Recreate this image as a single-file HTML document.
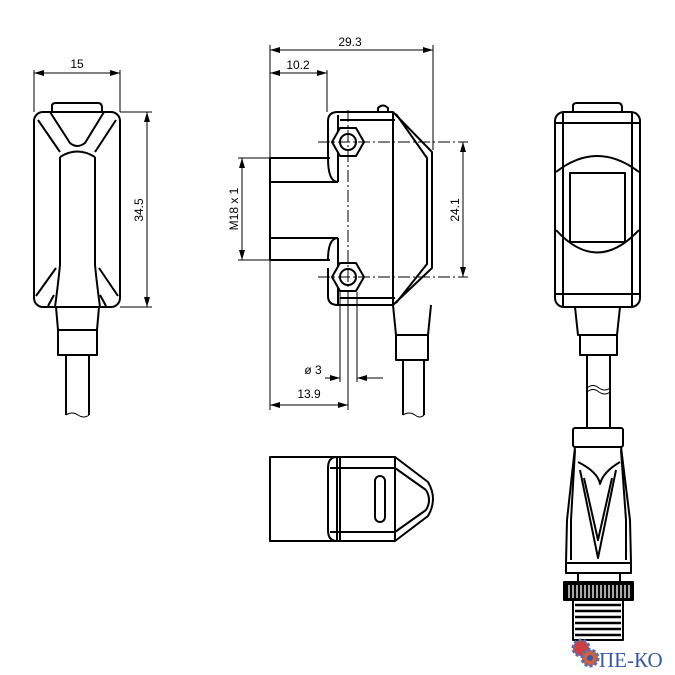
<!DOCTYPE html>
<html><head><meta charset="utf-8"><style>
html,body{margin:0;padding:0;background:#fff;}
svg{display:block;}
text{font-family:"Liberation Sans",sans-serif;font-size:12px;fill:#000;}
</style></head><body>
<svg width="675" height="675" viewBox="0 0 675 675" xmlns="http://www.w3.org/2000/svg">
<defs>
<marker id="a" viewBox="0 0 10 6" refX="10" refY="3" markerWidth="10" markerHeight="6" orient="auto-start-reverse" markerUnits="userSpaceOnUse"><path d="M0,0 L10,3 L0,6 z" fill="#000"/></marker>
</defs>
<g fill="none" stroke="#000" stroke-width="2" stroke-linejoin="round">
<!-- LEFT VIEW -->
<path d="M52,112 L52,106 Q52,103 56,103 L98,103 Q102,103 102,108 L102,112"/>
<rect x="34" y="112" width="86" height="195" rx="9"/>
<path d="M60,157 Q77,146 95,157"/>
<path d="M60,157 L60,265 Q58,285 55,307"/>
<path d="M95,157 L95,265 Q97,285 100,307"/>
<path d="M38,120 L60,152 M50,112 L70,143 Q77,149 85,143 L104,112 M116,120 L95,152"/>
<path d="M36,296 L56,268 M48,306 L54,295 M118,296 L99,268 M106,306 L100,295"/>
<path d="M56,307 L58,330 L97,330 L99,307"/>
<rect x="58" y="330" width="39" height="25"/>
<path d="M66,355 L66,415 M89,355 L89,415"/>
<!-- MIDDLE VIEW -->
<path d="M270,158 L270,260 M270,158 L330,158 M270,182 L338,182 M270,238 L338,238 M270,260 L330,260"/>
<path d="M338,112 L393,112 L432,152 L432,268 L393,305 L338,305 Q328,305 328,296 L328,268 M328,158 L328,121 Q328,112 338,112"/>
<path d="M328,158 Q328,182 338,182 M328,260 Q328,238 338,238"/>
<path d="M338,115 L338,182 M338,238 L338,305"/>
<path d="M340,120 L395,120 M340,298 L395,298"/>
<path d="M393,112 L393,305"/>
<path d="M396,114 L427,158 L427,264 L396,303"/>
<path d="M378,112 L378,108 Q383,103 388,108 L388,112"/>
<polygon points="364,142 356,156 340,156 332,142 340,128 356,128" fill="#fff"/>
<circle cx="348" cy="142" r="8"/>
<polygon points="364,277 356,291 340,291 332,277 340,263 356,263" fill="#fff"/>
<circle cx="348" cy="277" r="8"/>
<path d="M393,305 L396,335 L428,335 L431,305"/>
<rect x="396" y="335" width="32" height="25"/>
<path d="M403,360 L403,415 M424,360 L424,415"/>
<!-- BOTTOM MIDDLE VIEW -->
<rect x="270" y="457" width="67" height="84"/>
<path d="M337,457 L395,457 L395,541 L337,541 Q328,541 328,530 L328,468 Q328,457 337,457"/>
<path d="M340,457 L340,541 M330,468 L395,468 M330,532 L395,532"/>
<rect x="375" y="476" width="10" height="46" rx="5"/>
<path d="M395,457 L428,482 Q438,499 428,516 L395,541"/>
<path d="M395,468 L426,490 M395,532 L426,510 M426,490 Q432,500 426,510"/>
<!-- RIGHT VIEW -->
<path d="M573,112 L573,106 Q573,103 577,103 L618,103 Q622,103 622,108 L622,112"/>
<rect x="555" y="112" width="85" height="195" rx="9"/>
<path d="M563,112 L563,307 M632,112 L632,307 M555,123 L640,123 M555,294 L640,294"/>
<path d="M556,172 Q597,140 639,172 M556,230 Q597,275 639,230"/>
<rect x="570" y="173" width="55" height="69" fill="#fff"/>
<path d="M575,307 L578,335 L617,335 L620,307"/>
<rect x="580" y="335" width="37" height="20"/>
<path d="M587,355 L587,428 M610,355 L610,428"/>
<rect x="573" y="428" width="50" height="19" rx="2"/>
<path d="M575,447 L567,520 L566,563 M621,447 L630,520 L631,563"/>
<path d="M575,450 L571,520 L571,560 M621,450 L626,520 L626,560"/>
<path d="M578,462 Q598,472 600,484 Q603,472 620,462"/>
<path d="M580,470 L598,558 L616,470 M584,478 L598,540 L612,478"/>
<rect x="566" y="563" width="65" height="10"/>
<rect x="578" y="573" width="42" height="9"/>
<rect x="564" y="582" width="69" height="18" fill="#000"/>
<rect x="573" y="600" width="50" height="40"/>
</g>
<g stroke="#fff" stroke-width="1.3">
<path d="M569,585 V598 M573,585 V598 M577,585 V598 M581,585 V598 M585,585 V598 M589,585 V598 M593,585 V598 M597,585 V598 M601,585 V598 M605,585 V598 M609,585 V598 M613,585 V598 M617,585 V598 M621,585 V598 M625,585 V598 M629,585 V598"/>
</g>
<g stroke="#000" stroke-width="2.5">
<path d="M575,605 H621 M575,611 H621 M575,617 H621 M575,623 H621 M575,629 H621 M575,635 H621"/>
</g>
<g fill="none" stroke="#000" stroke-width="1">
<path d="M66,415 Q72,411 78,415 Q84,419 89,415"/>
<path d="M403,415 Q409,411 415,415 Q420,419 424,415"/>
<path d="M587,388 Q593,383 599,388 Q605,392 610,388 M587,392 Q593,387 599,392 Q605,396 610,392"/>
</g>
<g stroke="#000" stroke-width="1" stroke-dasharray="12,3,2,3" fill="none">
<path d="M348,110 L348,308 M318,142 L468,142 M318,277 L468,277"/>
</g>
<g stroke="#000" stroke-width="1" fill="none">
<path d="M34,70 V112 M120,70 V112"/>
<path d="M34,73 H120" marker-start="url(#a)" marker-end="url(#a)"/>
<path d="M120,112 H152 M120,307 H152"/>
<path d="M147,112 V307" marker-start="url(#a)" marker-end="url(#a)"/>
<path d="M270,45 V158 M270,260 V410 M433,45 V150 M327,70 V112"/>
<path d="M270,50 H433" marker-start="url(#a)" marker-end="url(#a)"/>
<path d="M270,73 H327" marker-start="url(#a)" marker-end="url(#a)"/>
<path d="M238,158 H270 M238,260 H270"/>
<path d="M242,158 V260" marker-start="url(#a)" marker-end="url(#a)"/>
<path d="M463,142 V277" marker-start="url(#a)" marker-end="url(#a)"/>
<path d="M340,292 V382 M357,292 V382 M348,292 V410"/>
<path d="M325,378 H340" marker-end="url(#a)"/>
<path d="M383,378 H357" marker-end="url(#a)"/>
<path d="M270,405 H348" marker-start="url(#a)" marker-end="url(#a)"/>
</g>
<text x="77" y="68" text-anchor="middle">15</text>
<text transform="translate(143,210) rotate(-90)" text-anchor="middle">34.5</text>
<text x="350" y="46" text-anchor="middle">29.3</text>
<text x="298" y="69" text-anchor="middle">10.2</text>
<text transform="translate(238,209) rotate(-90)" text-anchor="middle">M18 x 1</text>
<text transform="translate(459,210) rotate(-90)" text-anchor="middle">24.1</text>
<text x="313" y="374" text-anchor="middle">ø 3</text>
<text x="309" y="398" text-anchor="middle">13.9</text>
<circle cx="581" cy="648" r="8" fill="#d04040" stroke="#5070b0" stroke-width="3" stroke-dasharray="3,2"/>
<circle cx="590" cy="658" r="8" fill="#d06040" stroke="#5070b0" stroke-width="3" stroke-dasharray="3,2"/>
<circle cx="590" cy="658" r="3" fill="#3a5aa0"/>
<text x="599" y="667" style="font-family:'Liberation Serif',serif;font-size:21px;fill:#3a5aa0;">ПЕ-КО</text>
</svg>
</body></html>
